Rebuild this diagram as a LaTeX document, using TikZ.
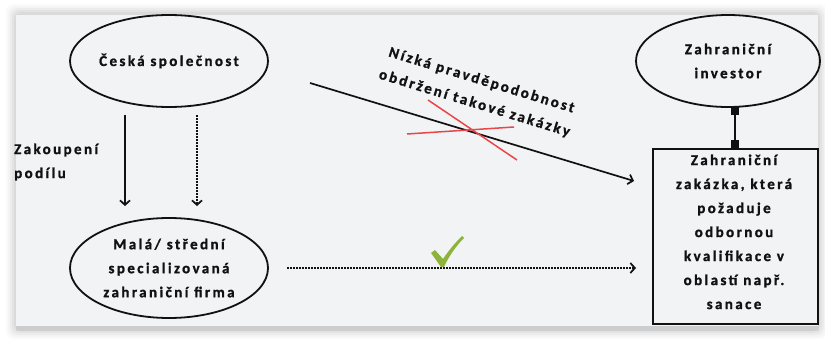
\documentclass[tikz,border=0pt]{standalone}
\usepackage{fontspec}
\setmainfont[LetterSpace=16,BoldFeatures={FakeBold=1.2}]{Carlito}
\usetikzlibrary{arrows.meta,shapes.geometric}
\definecolor{panel}{HTML}{F2F3F5}
\definecolor{ink}{HTML}{111111}
\definecolor{xred}{HTML}{E8464A}
\definecolor{okgreen}{HTML}{8DB33A}
\begin{document}
\begin{tikzpicture}[x=1pt,y=-1pt,
  txt/.style={font=\bfseries\fontsize{15}{24}\selectfont, text=ink, align=center},
  ell/.style={txt, draw=ink, line width=1.8pt, ellipse, inner sep=0pt},
  conn/.style={line width=1.7pt, draw=ink},
  dotline/.style={conn, dash pattern=on 1.6pt off 1.4pt},
  tip/.style={-{Straight Barb[length=4.5pt,width=10pt]}}
]
\useasboundingbox (0,0) rectangle (825,340);
\fill[white] (0,0) rectangle (825,340);
% panel shadow
\foreach \i/\o in {9/0.02,7/0.025,5/0.03,3/0.035,1/0.04}{
  \fill[black,opacity=\o,rounded corners=8pt] (15-\i,13-\i) rectangle (819+\i,330+\i);
}
\fill[black,opacity=0.06] (16,322) rectangle (819,331);
\fill[panel] (16,15) rectangle (818,326);

% nodes
\node[ell, minimum width=198pt, minimum height=92pt] (cs) at (169,61) {Česká společnost};
\node[ell, minimum width=184pt, minimum height=92pt] (zi) at (728,61) {Zahraniční\\investor};
\node[ell, minimum width=198pt, minimum height=100pt] (mf) at (169,268) {Malá/ střední\\specializovaná\\zahraniční firma};
\node[txt, draw=ink, line width=1.8pt, minimum width=165pt, minimum height=175pt, anchor=north west, inner sep=0pt] (zz) at (652,148) {};
\node[txt, anchor=north] (zzt) at (734,151) {Zahraniční\\zakázka, která\\požaduje\\odbornou\\kvalifikace v\\oblastí např.\\sanace};

\node[txt, anchor=west, align=left, inner sep=0pt] (zp) at (14,162) {Zakoupení\\podílu};

% connectors
\coordinate (a0) at (125,115); \coordinate (a1) at (125,206);
\coordinate (b0) at (197,115); \coordinate (b1) at (197,206);
\draw[conn, tip] (a0) -- (a1);
\draw[dotline, tip] (b0) -- (b1);

\coordinate (d0) at (310,83); \coordinate (d1) at (634,181);
\draw[conn, tip] (d0) -- (d1);
\node[txt, rotate=-17, inner sep=0pt] (lbl) at (478,92) {Nízká pravděpodobnost\\obdržení takové zakázky};

\coordinate (r1) at (428,100); \coordinate (r2) at (517,160);
\coordinate (r3) at (407,134); \coordinate (r4) at (514,127);
\draw[xred, line width=1.5pt] (r1) -- (r2);
\draw[xred, line width=1.5pt] (r3) -- (r4);

\coordinate (h0) at (287,268); \coordinate (h1) at (636,268);
\draw[dotline, tip] (h0) -- (h1);

\coordinate (v0) at (735,107); \coordinate (v1) at (735,148);
\draw[conn, {Square[length=8pt,width=8pt]}-{Square[length=8pt,width=8pt]}] (v0) -- (v1);

% check mark
\fill[okgreen] (431,253) -- (435,250) -- (443,259) .. controls (449,250) and (455,243) .. (462,236)
  -- (464,238) .. controls (456,246) and (449,256) .. (444,267) -- (441,267) -- cycle;
\end{tikzpicture}
\end{document}
